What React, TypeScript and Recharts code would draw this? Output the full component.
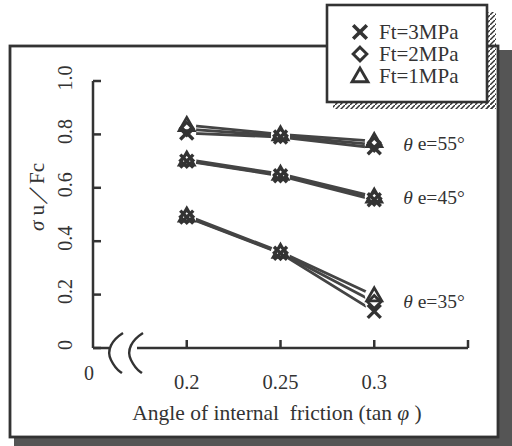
import React from "react";
import { LineChart, Line, XAxis, YAxis, LabelList } from "recharts";

// tan(phi) positions of the measured points
const tanPhi = [0.2, 0.25, 0.3];
const xTicks = [0.15, 0.2, 0.25, 0.3, 0.35];
const xTickLabels = ["0", "0.2", "0.25", "0.3", ""];
const yTicks = [0, 0.2, 0.4, 0.6, 0.8, 1.0];
const yTickLabels = ["0", "0.2", "0.4", "0.6", "0.8", "1.0"];

// sigma u / Fc for each Ft and theta e
const ft3e55 = [0.805, 0.79, 0.75];
const ft2e55 = [0.82, 0.795, 0.762];
const ft1e55 = [0.835, 0.8, 0.775];
const ft3e45 = [0.7, 0.645, 0.555];
const ft2e45 = [0.702, 0.648, 0.56];
const ft1e45 = [0.706, 0.652, 0.567];
const ft3e35 = [0.49, 0.355, 0.137];
const ft2e35 = [0.492, 0.357, 0.172];
const ft1e35 = [0.496, 0.36, 0.197];

const legendNames = ["Ft=3MPa", "Ft=2MPa", "Ft=1MPa"];
const markers = ["cross", "diamond", "triangle"];

const series = [
  { key: "ft3e55", values: ft3e55, marker: "cross", angle: "55" },
  { key: "ft2e55", values: ft2e55, marker: "diamond", angle: "55" },
  { key: "ft1e55", values: ft1e55, marker: "triangle", angle: "55" },
  { key: "ft3e45", values: ft3e45, marker: "cross", angle: "45" },
  { key: "ft2e45", values: ft2e45, marker: "diamond", angle: "45" },
  { key: "ft1e45", values: ft1e45, marker: "triangle", angle: "45" },
  { key: "ft3e35", values: ft3e35, marker: "cross", angle: "35" },
  { key: "ft2e35", values: ft2e35, marker: "diamond", angle: "35" },
  { key: "ft1e35", values: ft1e35, marker: "triangle", angle: "35" },
];

const rows = tanPhi.map((t, i) => {
  const row: any = { tan: t };
  series.forEach((s) => (row[s.key] = s.values[i]));
  return row;
});

const ink = "#333";
const serif = "'Liberation Serif', 'DejaVu Serif', serif";

const Marker = ({ kind, cx, cy, s = 1 }: { kind: string; cx: number; cy: number; s?: number }) => {
  if (kind === "cross") {
    const h = 6.5 * s;
    return (
      <g stroke={ink} strokeWidth={3.4 * s}>
        <line x1={cx - h} y1={cy - h} x2={cx + h} y2={cy + h} />
        <line x1={cx - h} y1={cy + h} x2={cx + h} y2={cy - h} />
      </g>
    );
  }
  if (kind === "diamond") {
    const h = 6.5 * s;
    return (
      <polygon
        points={`${cx},${cy - h} ${cx + h},${cy} ${cx},${cy + h} ${cx - h},${cy}`}
        fill="none"
        stroke={ink}
        strokeWidth={2.8 * s}
      />
    );
  }
  const h = 7.5 * s;
  return (
    <polygon
      points={`${cx},${cy - h} ${cx + h},${cy + 5.5 * s} ${cx - h},${cy + 5.5 * s}`}
      fill="none"
      stroke={ink}
      strokeWidth={2.8 * s}
    />
  );
};

const YTick = (props: any) => {
  const { x, y, payload } = props;
  const label = yTickLabels[yTicks.indexOf(payload.value)];
  const tx = x - 28;
  const ty = y - 3;
  return (
    <g>
      <line x1={x} y1={y} x2={x + 8} y2={y} stroke={ink} strokeWidth={2.5} />
      <text
        x={tx}
        y={ty}
        transform={`rotate(-90 ${tx} ${ty})`}
        textAnchor="middle"
        dominantBaseline="central"
        fontSize={20}
        fontFamily={serif}
        fill={ink}
      >
        {label}
      </text>
    </g>
  );
};

const XTick = (props: any) => {
  const { x, y, payload } = props;
  const idx = xTicks.indexOf(payload.value);
  const label = xTickLabels[idx];
  if (idx === 0) {
    return (
      <text x={x - 4} y={y + 25} textAnchor="middle" dominantBaseline="central" fontSize={20} fontFamily={serif} fill={ink}>
        {label}
      </text>
    );
  }
  return (
    <g>
      <line x1={x} y1={y} x2={x} y2={y - 8} stroke={ink} strokeWidth={2.5} />
      <text x={x} y={y + 34} textAnchor="middle" dominantBaseline="central" fontSize={20.5} fontFamily={serif} fill={ink}>
        {label}
      </text>
    </g>
  );
};

const angleLabel = (angle: string) => (props: any) => {
  const { x, y, index } = props;
  if (index !== tanPhi.length - 1) return null;
  return (
    <text x={x + 29} y={y - 1} dominantBaseline="central" fontSize={19.5} fontFamily={serif} fill={ink}>
      <tspan fontStyle="italic">θ</tspan> e={angle}°
    </text>
  );
};

export default function App() {
  return (
    <div style={{ position: "absolute", left: 0, top: 0, width: 512, height: 446, background: "#fff" }}>
      {/* outer frame with shadow */}
      <svg width={512} height={446} style={{ position: "absolute", left: 0, top: 0 }}>
        <rect x={14} y={50} width={498} height={396} fill="#555" />
        <rect x={10} y={46} width={488} height={391} fill="#fff" stroke={ink} strokeWidth={2.8} />
      </svg>

      <div style={{ position: "absolute", left: 0, top: 0 }}>
        <LineChart width={512} height={446} data={rows} margin={{ top: 81, right: 44, bottom: 0, left: 0 }}>
          <XAxis
            type="number"
            dataKey="tan"
            domain={[0.15, 0.35]}
            ticks={xTicks}
            interval={0}
            height={98}
            tickSize={0}
            tickMargin={0}
            tickLine={false}
            axisLine={{ stroke: ink, strokeWidth: 2.5 }}
            tick={<XTick />}
          />
          <YAxis
            type="number"
            domain={[0, 1]}
            ticks={yTicks}
            interval={0}
            width={93}
            tickSize={0}
            tickMargin={0}
            tickLine={false}
            axisLine={{ stroke: ink, strokeWidth: 2.5 }}
            tick={<YTick />}
            label={() => (
              <text
                x={37}
                y={197}
                transform="rotate(-90 37 197)"
                textAnchor="middle"
                dominantBaseline="central"
                fontSize={21}
                fontFamily={serif}
                fill={ink}
              >
                <tspan fontStyle="italic">σ</tspan> u／Fc
              </text>
            )}
          />
          {series.map((s) => (
            <Line
              key={"l" + s.key}
              dataKey={s.key}
              stroke="#444"
              strokeWidth={2.8}
              dot={false}
              activeDot={false}
              isAnimationActive={false}
            />
          ))}
          {series.map((s) => (
            <Line
              key={"m" + s.key}
              dataKey={s.key}
              stroke="none"
              dot={(p: any) => <circle key={p.index} cx={p.cx} cy={p.cy} r={9.5} fill="#fff" />}
              activeDot={false}
              isAnimationActive={false}
            />
          ))}
          {series.map((s) => (
            <Line
              key={"k" + s.key}
              dataKey={s.key}
              stroke="none"
              dot={(p: any) => <Marker key={p.index} kind={s.marker} cx={p.cx} cy={p.cy} />}
              activeDot={false}
              isAnimationActive={false}
            >
              {s.marker === "diamond" && <LabelList dataKey={s.key} content={angleLabel(s.angle)} />}
            </Line>
          ))}
        </LineChart>
      </div>

      {/* axis title, break marks and legend */}
      <svg width={512} height={446} style={{ position: "absolute", left: 0, top: 0 }}>
        <defs>
          <pattern id="hatch" width={5} height={5} patternUnits="userSpaceOnUse">
            <line x1={0} y1={5} x2={5} y2={0} stroke="#333" strokeWidth={1.4} />
          </pattern>
        </defs>
        <rect x={109} y={343} width={28} height={10} fill="#fff" />
        <path d="M 123 333 C 112 340, 106 350, 111 360 S 118 370, 122 373" fill="none" stroke={ink} strokeWidth={2.4} />
        <path d="M 143 333 C 132 340, 126 350, 131 360 S 138 370, 142 373" fill="none" stroke={ink} strokeWidth={2.4} />
        <text x={277} y={413} textAnchor="middle" dominantBaseline="central" fontSize={21.5} fontFamily={serif} fill={ink}>
          Angle of internal{"\u00a0 "}friction (tan <tspan fontStyle="italic">φ</tspan> )
        </text>

        <rect x={487} y={12} width={9} height={97} fill="url(#hatch)" />
        <rect x={333} y={102} width={163} height={7} fill="url(#hatch)" />
        <rect x={327} y={5} width={160} height={97} fill="#fff" stroke={ink} strokeWidth={2.6} />
        {legendNames.map((name, i) => {
          const cy = 32 + i * 22;
          return (
            <g key={name}>
              <Marker kind={markers[i]} cx={360} cy={cy} s={1.05} />
              <text x={379} y={cy} dominantBaseline="central" fontSize={21} fontFamily={serif} fill={ink}>
                {name}
              </text>
            </g>
          );
        })}
      </svg>
    </div>
  );
}
